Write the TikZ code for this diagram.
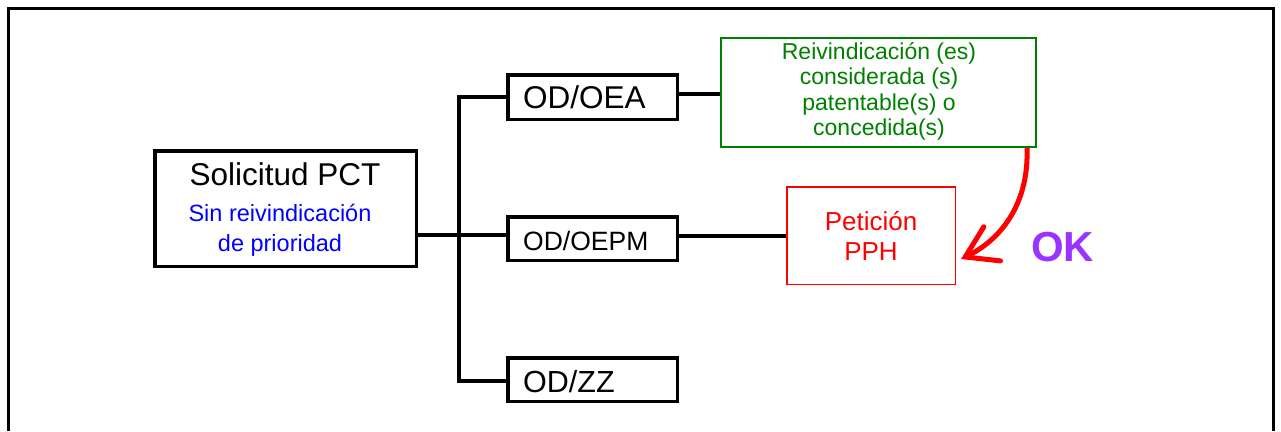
\documentclass[tikz,border=0pt]{standalone}
\usepackage{fontspec}
\setmainfont{Liberation Sans}
\usetikzlibrary{arrows.meta}
\definecolor{okpurple}{HTML}{9933FF}
\definecolor{dkgreen}{HTML}{008000}
\definecolor{pureblue}{HTML}{0000FF}
\definecolor{purered}{HTML}{FF0000}
\begin{document}
\begin{tikzpicture}[x=1pt,y=-1pt,
  odbox/.style={draw=black, line width=3.5pt, minimum width=169.5pt, minimum height=43.5pt, inner sep=0pt},
  txt/.style={inner sep=0pt, anchor=base},
  link/.style={draw=black, line width=3.5pt, line join=miter},
  greentxt/.style={txt, text=dkgreen, font=\fontsize{23}{25}\selectfont},
  redtxt/.style={txt, text=purered, font=\fontsize{26}{30}\selectfont},
  bluetxt/.style={txt, text=pureblue, font=\fontsize{23.5}{30}\selectfont}]
\useasboundingbox (0,0) rectangle (1281,431);
% outer frame (open at bottom)
\coordinate (fbl) at (8.5,431);
\coordinate (ftl) at (8.5,8.5);
\coordinate (ftr) at (1273.3,8.5);
\coordinate (fbr) at (1273.3,431);
\draw[line width=3pt, line join=miter] (fbl) -- (ftl) -- (ftr) -- (fbr);
% boxes
\node[draw=black, line width=3.5pt, minimum width=261.5pt, minimum height=115.5pt, inner sep=0pt] (pct) at (285.5,208.5) {};
\node[odbox, minimum height=44.5pt] (oea) at (592.5,97) {};
\node[odbox] (oepm) at (592.5,238.5) {};
\node[odbox] (zz) at (592.5,379.5) {};
\node[draw=dkgreen, line width=2pt, minimum width=315pt, minimum height=109pt, inner sep=0pt] (green) at (878.5,92.5) {};
\node[draw=purered, line width=1.5pt, minimum width=168.5pt, minimum height=97.5pt, inner sep=0pt] (red) at (871,235.5) {};
% texts
\node[txt, font=\fontsize{31.5}{36}\selectfont] (pcttitle) at (285,185.7) {Solicitud PCT};
\node[bluetxt] (blue1) at (280,221.7) {Sin reivindicación};
\node[bluetxt] (blue2) at (280,251.7) {de prioridad};
\node[txt, anchor=base west, font=\fontsize{31.5}{36}\selectfont] (oeatxt) at (523,108) {OD/OEA};
\node[txt, anchor=base west, font=\fontsize{26.5}{30}\selectfont] (oepmtxt) at (523,250) {OD/OEPM};
\node[txt, anchor=base west, font=\fontsize{30.5}{36}\selectfont] (zztxt) at (523,392) {OD/ZZ};
\node[greentxt] (g1) at (879,59.3) {Reivindicación (es)};
\node[greentxt] (g2) at (879,84.3) {considerada (s)};
\node[greentxt] (g3) at (879,110) {patentable(s) o};
\node[greentxt] (g4) at (879,135) {concedida(s)};
\node[redtxt] (r1) at (871,230) {Petición};
\node[redtxt] (r2) at (871,260.7) {PPH};
\node[txt, text=okpurple, font=\fontsize{42}{48}\selectfont\bfseries] (ok) at (1062.5,261.7) {OK};
% connectors
\coordinate (j) at (459,235);
\coordinate (ttop) at (459,97);
\coordinate (tbot) at (459,381);
\draw[link] (pct.east |- j) -- (oepm.west |- j);
\draw[link] (oea.west |- ttop) -- (ttop) -- (tbot) -- (zz.west |- tbot);
\draw[link] (oea.east |- 0,94) -- (green.west |- 0,94);
\draw[link] (oepm.east |- 0,236) -- (red.west |- 0,236);
% curved arrow
\coordinate (astart) at ([xshift=-10pt]green.south east);
\coordinate (atip) at (961,259);
\draw[purered, line width=5pt, -{Straight Barb[length=30pt, width=38pt, line cap=round]}] (astart) .. controls (1029,205) and (1000,240) .. (atip);
\end{tikzpicture}
\end{document}
